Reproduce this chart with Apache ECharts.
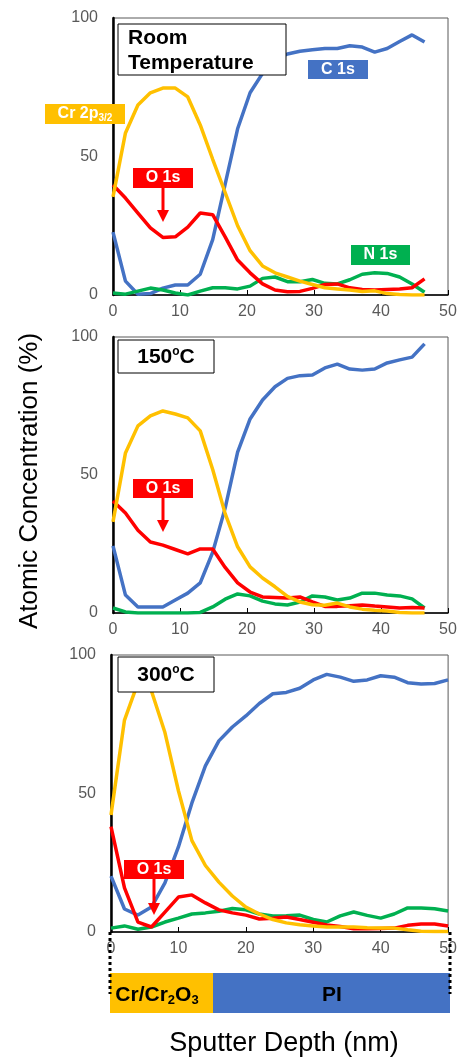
<!DOCTYPE html>
<html><head><meta charset="utf-8">
<script src="https://cdn.jsdelivr.net/npm/echarts@6/dist/echarts.min.js"></script>
<style>html,body{margin:0;padding:0;background:#fff}#c{width:460px;height:1059px}</style>
</head><body><div id="c"></div>
<script>
// ---- data ----
const depthA = [0,1.86,3.72,5.58,7.44,9.3,11.16,13.02,14.88,16.74,18.6,20.46,22.32,24.18,26.04,27.9,29.76,31.62,33.48,35.34,37.2,39.06,40.92,42.78,44.64,46.5];
const depthB = [0,2,4,6,8,10,12,14,16,18,20,22,24,26,28,30,32,34,36,38,40,42,44,46,48,50];

// Room temperature
const rtC  = [22.7,5,0.3,0.5,2.5,3.6,3.6,7.5,20,40,60,73,80,85,87,88,88.5,89,89,90,89.5,87.7,89,91.5,93.9,91.3];
const rtCr = [35.4,58.5,68.6,73,74.7,74.7,71.5,61.4,49,37,25,16,10.5,8,6.5,5,3.8,2.6,2.2,1.8,1.3,1.5,0.5,0.2,0,0];
const rtO  = [39.7,35,29.6,24.2,20.8,21,24.5,29.6,29,21,12.6,8,4,1.8,1.2,1.3,2.4,3.8,4,2.6,2,1.8,2,2.2,2.6,5.8];
const rtN  = [0.7,0.3,1.4,2.5,1.8,0.7,0,1.4,2.6,2.6,2.2,3.2,6,6.5,4.8,4.8,5.6,4.2,4,5.5,7.5,8,7.8,6.5,4,1];
// 150 C
const t150C  = [24.3,6.5,2.2,2.2,2.2,4.7,7.2,10.9,22,38,58.3,70.3,77.2,82,85,86,86.2,88.8,90.2,88.4,88,88.4,90.6,91.7,92.7,97.5];
const t150Cr = [33,58,67.8,71.4,73.2,72.1,70.7,66,52,36,24,16.7,12.7,9.5,6,4,3,2.8,3.6,2.2,1.4,1,0.7,0.2,0,0];
const t150O  = [40.6,36.2,30,25.7,24.6,23,21.4,23.2,23.2,16.5,10.9,7.6,5.8,5.6,5.4,5.8,4,2.4,2.4,2.6,2.9,2.5,2.2,1.8,2,1.8];
const t150N  = [1.8,0.4,0,0,0,0,0,0.2,2.2,5,6.9,6.2,4.3,3.3,2.9,4,6.2,5.8,4.7,5.4,7.2,7.2,6.5,6.2,5.1,1.8];
// 300 C
const t300C  = [20.2,8.3,6.1,9,17.7,30.7,46.6,60,69,74,78,82.5,86,86.5,88,91,93,92,90.5,91,92.5,92,90,89.5,89.7,91];
const t300Cr = [42.2,76.5,90,87,72,51,33,24,18,13,9,6.5,4.5,3.3,2.6,2.2,1.8,1.8,1.8,1.5,1.4,1.4,0.8,0.3,0.2,0.2];
const t300O  = [38,15.9,3.6,1.8,7.2,12.6,13.4,10.5,8,6.9,6.1,4.7,5,5.4,4.5,3.5,2.5,2,1.2,1.2,1.3,1.4,2.4,2.9,2.9,2.2];
const t300N  = [1.4,2.2,1,1.8,3.6,5,6.5,6.9,7.5,8.5,8,6.5,5.8,5.9,6.1,4.5,3.6,5.8,7.2,6,5,6.5,8.7,8.7,8.4,7.6];

const xTicks = [0,10,20,30,40,50];
const yTicks = [0,50,100];

const colC = '#4472C4', colCr = '#FFC000', colO = '#FF0000', colN = '#00B050';
const FF = '"Liberation Sans", Arial, sans-serif';

const grids = [
  {left:113, top:18, width:335, height:277},
  {left:113, top:337, width:335, height:276},
  {left:111, top:655, width:338, height:277}
];
const panels = [
  {x:depthA, C:rtC, Cr:rtCr, O:rtO, N:rtN},
  {x:depthA, C:t150C, Cr:t150Cr, O:t150O, N:t150N},
  {x:depthB, C:t300C, Cr:t300Cr, O:t300O, N:t300N}
];

const pairs = (xs, ys) => xs.map((x,i)=>[x, ys[i]]);

const option = {
  animation:false,
  grid: grids.map(g=>Object.assign({show:true, borderColor:'#595959', borderWidth:1, backgroundColor:'transparent'}, g)),
  xAxis: grids.map((g,i)=>({
    type:'value', gridIndex:i, min:xTicks[0], max:xTicks[xTicks.length-1], interval:10,
    axisLine:{show:true, onZero:false, lineStyle:{color:'#000', width:1.5}},
    axisTick:{show:true, inside:true, length:5, lineStyle:{color:'#000', width:1}},
    axisLabel:{color:'#595959', fontSize:16, fontFamily:FF, margin:9},
    splitLine:{show:false}
  })),
  yAxis: grids.map((g,i)=>({
    type:'value', gridIndex:i, min:yTicks[0], max:yTicks[yTicks.length-1], interval:50,
    axisLine:{show:true, lineStyle:{color:'#000', width:2.5}},
    axisTick:{show:false},
    axisLabel:{color:'#595959', fontSize:16, fontFamily:FF, margin:15},
    splitLine:{show:false}
  })),
  series: [],
  graphic: []
};

panels.forEach((p,i)=>{
  [['C 1s',p.C,colC],['N 1s',p.N,colN],['O 1s',p.O,colO],['Cr 2p',p.Cr,colCr]].forEach(([n,d,c])=>{
    option.series.push({
      type:'line', name:n, xAxisIndex:i, yAxisIndex:i, data:pairs(p.x,d),
      showSymbol:false, symbol:'none', lineStyle:{color:c, width:3.5}, itemStyle:{color:c}, z:3
    });
  });
});

const G = option.graphic;
function box(x,y,w,h,fill,stroke){ G.push({type:'rect', z:100, shape:{x:x,y:y,width:w,height:h}, style:{fill:fill, stroke:stroke||null, lineWidth:stroke?1:0}}); }
function txt(x,y,text,opts){ G.push({type:'text', z:101, x:x, y:y, style:Object.assign({text:text, fill:'#fff', font:'bold 16px '+FF, align:'center', verticalAlign:'middle'}, opts||{})}); }
function arrow(x,y1,y2){
  G.push({type:'line', z:100, shape:{x1:x,y1:y1,x2:x,y2:y2-10}, style:{stroke:colO, lineWidth:3}});
  G.push({type:'polygon', z:100, shape:{points:[[x-6,y2-12],[x+6,y2-12],[x,y2]]}, style:{fill:colO}});
}

// Panel 1 annotations
box(118,24,168,51,'#fff','#000');
txt(128,38,'Room',{fill:'#000', font:'bold 21px '+FF, align:'left'});
txt(128,63,'Temperature',{fill:'#000', font:'bold 21px '+FF, align:'left'});
box(45,104,80,20,colCr);
txt(85,114,'{a|Cr 2p}{b|3/2}',{rich:{a:{fill:'#fff', font:'bold 16px '+FF}, b:{fill:'#fff', font:'bold 10px '+FF, padding:[8,0,0,0]}}});
box(308,60,60,19,colC);
txt(338,70,'C 1s');
box(133,168,60,20,colO);
txt(163,178,'O 1s');
arrow(163,188,222);
box(351,245,59,20,colN);
txt(380.5,255,'N 1s');

// Panel 2
box(118,340,96,33,'#fff','#000');
txt(166,357,'{a|150}{b|o}{a|C}',{rich:{a:{fill:'#000', font:'bold 21px '+FF}, b:{fill:'#000', font:'bold 12px '+FF, padding:[0,0,10,0]}}});
box(133,479,60,19,colO);
txt(163,489,'O 1s');
arrow(163,498,532);

// Panel 3
box(118,657,96,35,'#fff','#000');
txt(166,675,'{a|300}{b|o}{a|C}',{rich:{a:{fill:'#000', font:'bold 21px '+FF}, b:{fill:'#000', font:'bold 12px '+FF, padding:[0,0,10,0]}}});
box(124,860,60,19,colO);
txt(154,870,'O 1s');
arrow(154,879,915);

// bottom layer bar
box(110,973,103,40,colCr);
box(213,973,237,40,colC);
txt(157,995,'{a|Cr/Cr}{b|2}{a|O}{b|3}',{rich:{a:{fill:'#000', font:'bold 21px '+FF}, b:{fill:'#000', font:'bold 13px '+FF, padding:[10,0,0,0]}}});
txt(332,995,'PI',{fill:'#000', font:'bold 21px '+FF});
// dotted boundaries
G.push({type:'line', z:102, shape:{x1:110,y1:932,x2:110,y2:994}, style:{stroke:'#000', lineWidth:3, lineDash:[3,3]}});
G.push({type:'line', z:102, shape:{x1:450,y1:932,x2:450,y2:994}, style:{stroke:'#000', lineWidth:3, lineDash:[3,3]}});

// axis titles
G.push({type:'text', z:101, x:30, y:481, rotation:Math.PI/2, style:{text:'Atomic Concentration (%)', fill:'#000', font:'26px '+FF, align:'center', verticalAlign:'middle'}});
txt(284,1044,'Sputter Depth (nm)',{fill:'#000', font:'27px '+FF});

const chart = echarts.init(document.getElementById('c'), null, {renderer:'canvas'});
chart.setOption(option);
</script>
</body></html>
